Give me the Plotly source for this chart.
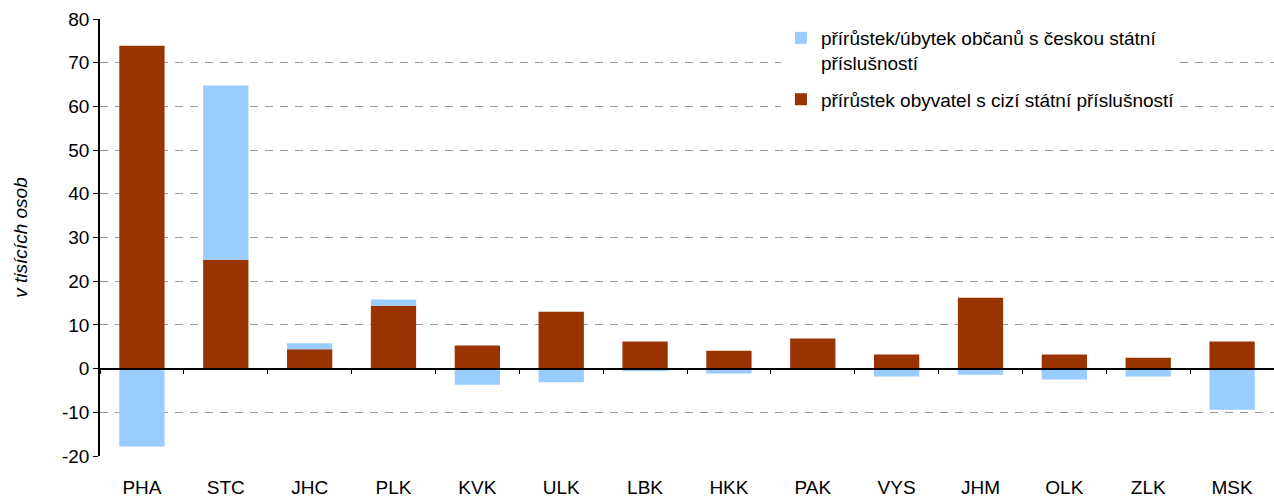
import plotly.graph_objects as go

categories = ["PHA", "STC", "JHC", "PLK", "KVK", "ULK", "LBK", "HKK", "PAK", "VYS", "JHM", "OLK", "ZLK", "MSK"]
foreign = [73.9, 24.9, 4.4, 14.4, 5.3, 13.0, 6.2, 4.1, 6.9, 3.2, 16.2, 3.2, 2.5, 6.2]
czech = [-17.8, 39.9, 1.4, 1.4, -3.7, -3.1, -0.6, -1.1, 0.0, -1.8, -1.4, -2.5, -1.8, -9.4]
yticks = [-20, -10, 0, 10, 20, 30, 40, 50, 60, 70, 80]
yticklabels = ["-20", "-10", "0", "10", "20", "30", "40", "50", "60", "70", "80"]

name_czech = "přírůstek/úbytek občanů s českou státní<br>příslušností"
name_foreign = "přírůstek obyvatel s cizí státní příslušností"

font = "Liberation Sans, Arial, sans-serif"
FS = 19

fig = go.Figure()
fig.add_trace(go.Bar(x=categories, y=foreign, name=name_foreign, legendgroup="f", legendrank=2,
                     marker_color="#993300", marker_line_width=0))
fig.add_trace(go.Bar(x=categories, y=czech, name=name_czech, legendgroup="c", legendrank=1,
                     marker_color="#99CCFF", marker_line_width=0))
# helper trace for the category-boundary tick axis drawn at y = 0
fig.add_trace(go.Scatter(x=categories, y=[None] * len(categories), xaxis="x2",
                         showlegend=False, hoverinfo="skip"))

fig.update_layout(
    width=1274, height=499,
    barmode="relative", bargap=0.46,
    plot_bgcolor="white", paper_bgcolor="white",
    margin=dict(l=100, r=0, t=19, b=43),
    font=dict(family=font, size=FS, color="black"),
    showlegend=True,
    legend=dict(x=0.58, y=1.0, xanchor="left", yanchor="top", bgcolor="white",
                traceorder="grouped", font=dict(size=FS), itemwidth=30,
                tracegroupgap=9, valign="top"),
    xaxis=dict(type="category", categoryorder="array", categoryarray=categories,
               range=[-0.5, len(categories) - 0.5], showline=False,
               ticks="outside", ticklen=14, tickcolor="rgba(0,0,0,0)",
               showgrid=False, zeroline=False, tickfont=dict(size=FS)),
    xaxis2=dict(type="category", categoryorder="array", categoryarray=categories,
                range=[-0.5, len(categories) - 0.5], overlaying="x", anchor="free",
                position=0.2, side="bottom", showline=True, linecolor="black", linewidth=1.5,
                ticks="outside", tickson="boundaries", ticklen=5, tickcolor="black",
                showticklabels=False, showgrid=False),
    yaxis=dict(range=[-20, 80], tickvals=yticks, ticktext=yticklabels,
               showline=True, linecolor="black", linewidth=1.5,
               ticks="outside", ticklen=5, tickcolor="black",
               showgrid=True, gridcolor="#999999", griddash="8px,7px", gridwidth=1,
               zeroline=False, tickfont=dict(size=FS),
               title=dict(text="<i>v tisících osob</i>", font=dict(size=FS), standoff=29)),
)

fig.write_html("out.html", config={"displayModeBar": False},
               post_script="document.body.style.margin='0';")
